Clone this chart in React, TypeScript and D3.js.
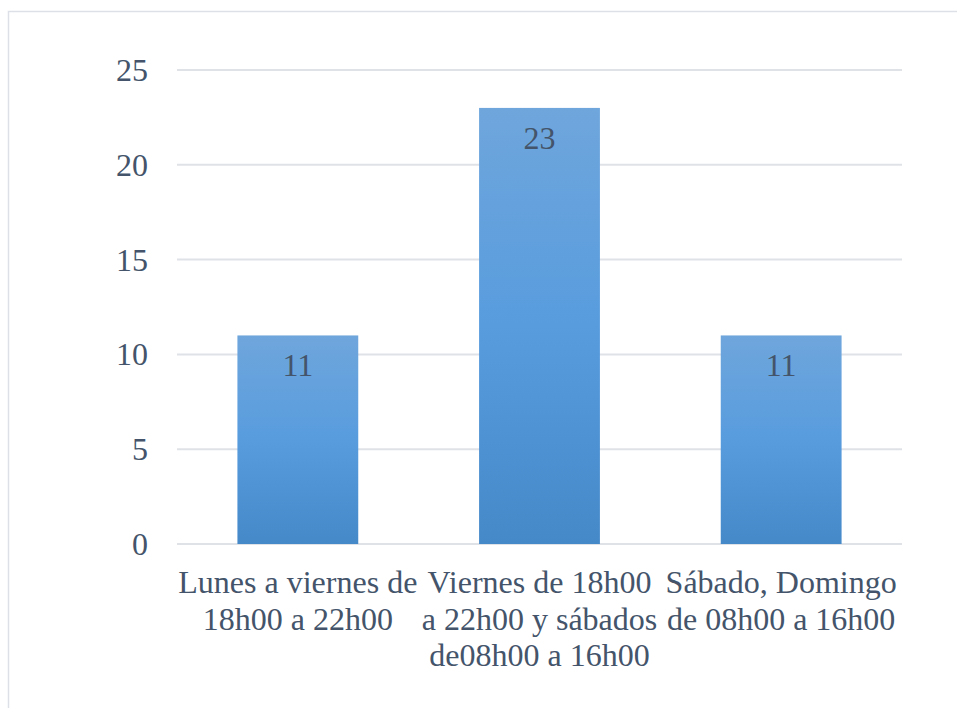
import React from "react";
import * as d3 from "d3";

const categories: string[][] = [
  ["Lunes a viernes de", "18h00 a 22h00"],
  ["Viernes de 18h00", "a 22h00 y sábados", "de08h00 a 16h00"],
  ["Sábado, Domingo", "de 08h00 a 16h00"],
];
const values: number[] = [11, 23, 11];
const yTicks: number[] = [0, 5, 10, 15, 20, 25];

const W = 957;
const H = 708;
const left = 177;
const right = 902;
const top = 70;
const bottom = 544;
const textColor = "#44546a";
const font = "'Liberation Serif', 'Times New Roman', serif";

export default function App() {
  const idx = categories.map((_, i) => String(i));
  const x = d3.scaleBand<string>().domain(idx).range([left, right]).paddingInner(0.5).paddingOuter(0.25);
  const y = d3.scaleLinear().domain([0, 25]).range([bottom, top]);

  return (
    <svg width={W} height={H} style={{ position: "absolute", left: 0, top: 0, display: "block" }}>
      <defs>
        <linearGradient id="barGrad" x1="0" y1="0" x2="0" y2="1">
          <stop offset="0%" stopColor="#6fa6dc" />
          <stop offset="50%" stopColor="#589cde" />
          <stop offset="100%" stopColor="#4689c9" />
        </linearGradient>
      </defs>
      <rect x={0} y={0} width={W} height={H} fill="#ffffff" />
      <rect x={8.5} y={11.5} width={W + 20} height={H + 20} fill="none" stroke="#dde1e7" strokeWidth={1.5} />
      {yTicks.map((t) => (
        <g key={t}>
          <line x1={left} x2={right} y1={y(t)} y2={y(t)} stroke="#dfe2e7" strokeWidth={2} />
          <text x={148} y={y(t) + 11} textAnchor="end" fontFamily={font} fontSize={32} fill={textColor}>
            {t}
          </text>
        </g>
      ))}
      {values.map((v, i) => {
        const bx = x(String(i))!;
        const bw = x.bandwidth();
        return (
          <g key={i}>
            <rect x={bx} y={y(v)} width={bw} height={bottom - y(v)} fill="url(#barGrad)" />
            <text x={bx + bw / 2} y={y(v) + 41} textAnchor="middle" fontFamily={font} fontSize={32} fill={textColor}>
              {v}
            </text>
          </g>
        );
      })}
      {categories.map((lines, i) => {
        const cx = x(String(i))! + x.bandwidth() / 2;
        return (
          <text key={i} textAnchor="middle" fontFamily={font} fontSize={32} fill={textColor}>
            {lines.map((l, j) => (
              <tspan key={j} x={cx} y={593 + j * 36.5}>
                {l}
              </tspan>
            ))}
          </text>
        );
      })}
    </svg>
  );
}
